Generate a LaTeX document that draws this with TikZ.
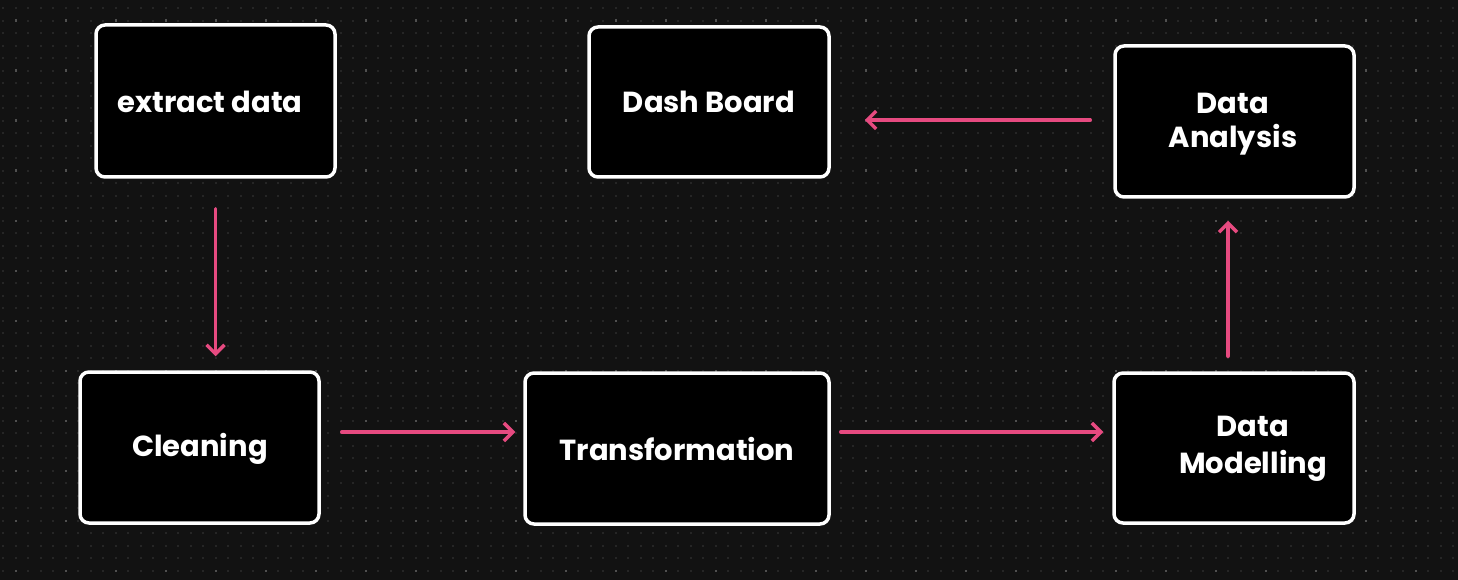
\documentclass[tikz,border=0pt]{standalone}
\usepackage{fontspec}
\newfontfamily\hand{Poppins}
\usetikzlibrary{arrows.meta}
\definecolor{bgc}{HTML}{121212}
\definecolor{dotd}{HTML}{262626}
\definecolor{dotb}{HTML}{505050}
\definecolor{pinkc}{HTML}{E64A80}
\tikzset{
  box/.style={draw=white, line width=3.5pt, fill=black, rounded corners=9pt, inner sep=0pt},
  txt/.style={text=white, font=\hand\bfseries\fontsize{29}{37}\selectfont, align=center, inner sep=0pt},
  arr/.style={draw=pinkc, line width=3.5pt, line cap=round, -{Straight Barb[length=9pt,width=18pt,line width=3.5pt]}}
}
\begin{document}
\begin{tikzpicture}[x=1pt,y=-1pt]
\useasboundingbox (0,0) rectangle (1458,580);
\fill[bgc] (0,0) rectangle (1458,580);
\foreach \x in {3.2,15.7,...,1458} {
  \foreach \y in {8.2,20.7,...,580} {
    \fill[dotd] (\x-1,\y-1) rectangle (\x+1,\y+1);
  }
}
\foreach \x in {15.7,65.7,...,1458} {
  \foreach \y in {20.7,70.7,...,580} {
    \fill[dotb] (\x-1.2,\y-1.2) rectangle (\x+1.2,\y+1.2);
  }
}
% boxes
\node[box, minimum width=239pt, minimum height=152pt] (ex) at (215.5,101) {};
\node[box, minimum width=240pt, minimum height=150pt] (db) at (709,102) {};
\node[box, minimum width=239pt, minimum height=151pt] (da) at (1234.5,121.5) {};
\node[box, minimum width=239pt, minimum height=151pt] (cl) at (199.5,447.5) {};
\node[box, minimum width=304pt, minimum height=151pt] (tr) at (677,448.5) {};
\node[box, minimum width=240pt, minimum height=150pt] (dm) at (1234,448) {};
% texts
\node[txt] (ext) at (210,102) {extract data};
\node[txt] (dbt) at (709,102) {Dash Board};
\node[txt] (dat) at (1233,124) {Data\\[-3pt]Analysis};
\node[txt] (clt) at (200,449) {Cleaning};
\node[txt] (trt) at (677,449) {Transformation};
\node[txt] (dmt) at (1253,449) {Data\\[0pt]Modelling};
% arrows
\draw[arr, shorten <=30pt, shorten >=14pt] (ex.south) -- (ex.south |- cl.north);
\draw[arr, shorten <=21pt, shorten >=8pt] ([yshift=15.5pt]cl.east) -- ([yshift=15.5pt]cl.east -| tr.west);
\draw[arr, shorten <=10pt, shorten >=9pt] ([yshift=16.5pt]tr.east) -- ([yshift=16.5pt]tr.east -| dm.west);
\draw[arr, shorten <=15pt, shorten >=22pt] ([xshift=-6pt]dm.north) -- ([xshift=-6pt]dm.north |- da.south);
\draw[arr, shorten <=23pt, shorten >=34pt] ([yshift=1.5pt]da.west) -- ([yshift=1.5pt]da.west -| db.east);
\end{tikzpicture}
\end{document}
